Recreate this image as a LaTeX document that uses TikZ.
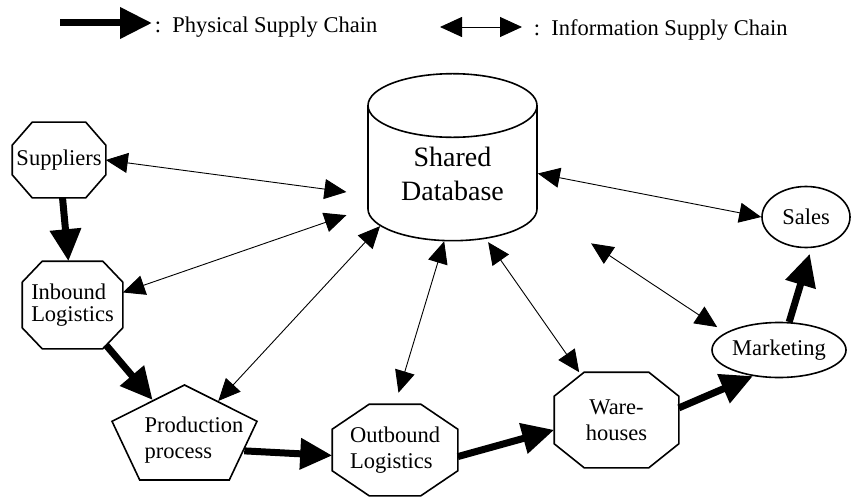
\documentclass[tikz,border=0pt]{standalone}
\usepackage{fontspec}
\setmainfont{Liberation Serif}
\usetikzlibrary{arrows.meta, shapes.geometric}

\begin{document}
\begin{tikzpicture}[
    x=1pt, y=-1pt,
    line width=1.6pt,
    font=\fontsize{22.5}{26}\selectfont,
    octa/.style={rectangle, inner sep=0pt, align=left},
    oval/.style={draw, ellipse, inner sep=0pt},
    phys/.style={line width=7pt, -{Triangle[length=32pt, width=30pt]}},
    info/.style={line width=0.9pt, {Triangle[length=22pt, width=20pt]}-{Triangle[length=22pt, width=20pt]}}
]
\useasboundingbox (0,0) rectangle (858,497);

% --- Legende ---
\coordinate (phys-start) at (60,23);
\coordinate (phys-end) at (152,23);
\draw[phys] (phys-start) -- (phys-end);
\node[anchor=base west, inner sep=0pt] (physlabel) at (154,33) {:\hspace{.5em}Physical Supply Chain};

\coordinate (info-start) at (440,27);
\coordinate (info-end) at (522,27);
\draw[info] (info-start) -- (info-end);
\node[anchor=base west, inner sep=0pt] (infolabel) at (533,36) {:\hspace{.5em}Information Supply Chain};

% --- Datenbank ---
\node[draw, cylinder, shape border rotate=90, aspect=0.62, minimum width=169pt, minimum height=167pt,
      inner sep=0pt, align=center, font=\fontsize{28}{34}\selectfont] (db) at (452.5,173.5) {Shared\\Database};

% --- Stationen ---
\node[octa, minimum width=92pt, minimum height=74pt] (sup) at (59,160) {Suppliers};
\node[octa, minimum width=99pt, minimum height=86pt] (inb) at (72.5,305) {Inbound\\[-4pt]Logistics};
\node[draw, regular polygon, regular polygon sides=5, minimum size=105pt, inner sep=0pt,
      xscale=1.452, transform shape] (prod) at (184.5,437.5) {};
\node[align=left] (prodtext) at (194,440) {Production\\process};
\node[octa, minimum width=124pt, minimum height=90pt] (out) at (395,450) {Outbound\\Logistics};
\node[octa, minimum width=123pt, minimum height=94pt, align=center] (war) at (616.5,420) {Ware-\\houses};
\node[oval, minimum width=134pt, minimum height=55pt] (mkt) at (779,350) {Marketing};
\node[oval, minimum width=88pt, minimum height=61pt] (sales) at (806,217) {Sales};

% Achtecke (Ecken abgeschnitten)
\foreach \n/\cx/\cy in {sup/20/23, inb/20/21, out/37/25, war/30/24}
  \draw ([xshift=\cx pt]\n.north west) -- ([xshift=-\cx pt]\n.north east)
     -- ([yshift=-\cy pt]\n.north east) -- ([yshift=\cy pt]\n.south east)
     -- ([xshift=-\cx pt]\n.south east) -- ([xshift=\cx pt]\n.south west)
     -- ([yshift=\cy pt]\n.south west) -- ([yshift=-\cy pt]\n.north west) -- cycle;

% --- Physical Supply Chain ---
\draw[phys] (sup) -- (inb);
\draw[phys] ([xshift=-17pt, yshift=4pt]inb.south east) -- (prod);
\draw[phys] (prod.side 4) -- (out.185);
\draw[phys] (out.-6) -- (war.189);
\draw[phys] (war.11) -- (mkt.225);
\draw[phys, shorten >=6pt] (mkt.70) -- (sales.-80);

% --- Information Supply Chain ---
\draw[info, shorten >=21pt] (sup.east) -- (db.194);
\draw[info, shorten >=22pt] (inb.14) -- (db.202);
\draw[info] (prod) -- (db.216);
\draw[info, shorten <=12pt] (out.north) -- (db.263);
\draw[info, shorten >=4pt] (war.128) -- (db.297);
\draw[info, shorten <=10pt, shorten >=64pt] (mkt.162) -- (db.338);
\draw[info] (sales.west) -- (db.0);

\end{tikzpicture}
\end{document}
